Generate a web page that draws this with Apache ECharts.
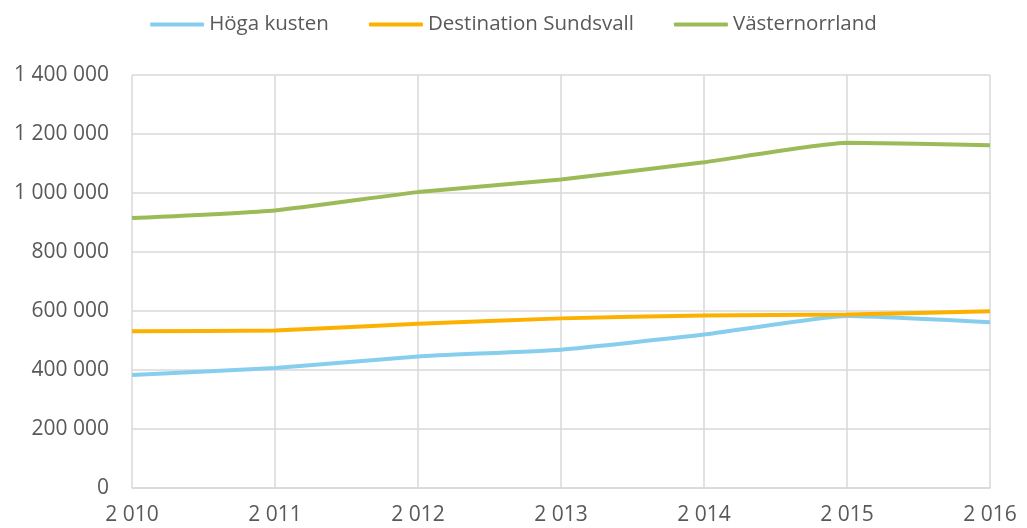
<!DOCTYPE html>
<html>
<head>
    <meta charset="UTF-8">
    <title>Gästnätter</title>
    <script src="https://cdn.jsdelivr.net/npm/echarts@6/dist/echarts.min.js"></script>
    <style>
        html, body { margin: 0; padding: 0; background: #ffffff; }
        #main { width: 1027px; height: 528px; }
    </style>
</head>
<body>
<div id="main"></div>
<script type="text/javascript">
    var years = ['2010', '2011', '2012', '2013', '2014', '2015', '2016'];
    var hogaKusten = [383000, 407000, 446000, 469000, 520000, 583000, 562000];
    var sundsvall = [531000, 534000, 557000, 575000, 585000, 588000, 599000];
    var vasternorrland = [915000, 941000, 1003000, 1046000, 1104000, 1170000, 1162000];

    // svensk tusentalsavgränsare
    function spaced(v) {
        return String(v).replace(/\B(?=(\d{3})+(?!\d))/g, ' ');
    }

    var myChart = echarts.init(document.getElementById('main'));
    var font = '"Open Sans", sans-serif';

    var option = {
        animation: false,
        textStyle: { fontFamily: font, color: '#595959' },
        legend: {
            top: 9,
            left: 'center',
            icon: 'roundRect',
            itemWidth: 54,
            itemHeight: 4,
            itemGap: 40,
            textStyle: { fontSize: 20.5, color: '#595959', fontFamily: font },
            data: ['Höga kusten', 'Destination Sundsvall', 'Västernorrland']
        },
        grid: { left: 132, right: 37, top: 75, bottom: 40 },
        xAxis: {
            type: 'category',
            data: years,
            boundaryGap: false,
            axisLine: { lineStyle: { color: '#D9D9D9', width: 1.5 } },
            axisTick: { show: false },
            axisLabel: {
                margin: 17,
                fontSize: 21,
                color: '#595959',
                fontFamily: font,
                formatter: function (v) { return spaced(v); }
            },
            splitLine: { show: true, lineStyle: { color: '#D9D9D9', width: 1.5 } }
        },
        yAxis: {
            type: 'value',
            min: 0,
            max: 1400000,
            interval: 200000,
            axisLine: { show: false },
            axisTick: { show: false },
            axisLabel: {
                margin: 23,
                fontSize: 21,
                color: '#595959',
                fontFamily: font,
                formatter: function (v) { return spaced(v); }
            },
            splitLine: { lineStyle: { color: '#D9D9D9', width: 1.5 } }
        },
        series: [
            {
                name: 'Höga kusten',
                type: 'line',
                data: hogaKusten,
                symbol: 'none',
                smooth: 0.15,
                itemStyle: { color: '#87CEEE' },
                lineStyle: { color: '#87CEEE', width: 4 }
            },
            {
                name: 'Destination Sundsvall',
                type: 'line',
                data: sundsvall,
                symbol: 'none',
                smooth: 0.15,
                itemStyle: { color: '#FCB100' },
                lineStyle: { color: '#FCB100', width: 4 }
            },
            {
                name: 'Västernorrland',
                type: 'line',
                data: vasternorrland,
                symbol: 'none',
                smooth: 0.15,
                itemStyle: { color: '#9BBB59' },
                lineStyle: { color: '#9BBB59', width: 4 }
            }
        ]
    };

    myChart.setOption(option);
</script>
</body>
</html>
